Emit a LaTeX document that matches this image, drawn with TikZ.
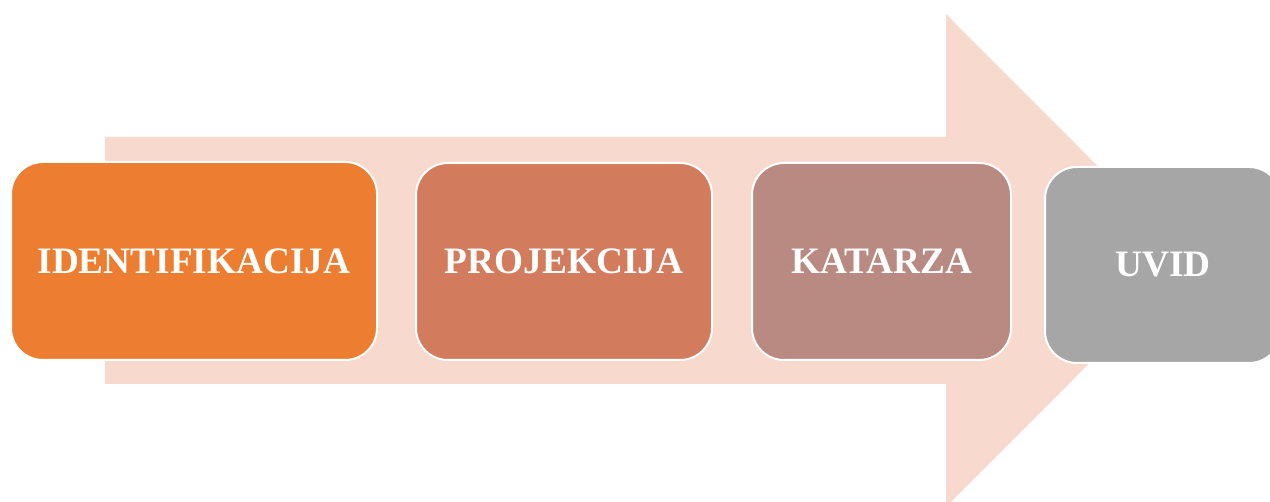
\documentclass[tikz,border=0pt]{standalone}
\usepackage{fontspec}
\setmainfont{Liberation Serif}
\definecolor{arrowfill}{HTML}{F8D9CE}
\definecolor{cA}{HTML}{ED7D31}
\definecolor{cB}{HTML}{D27B5D}
\definecolor{cC}{HTML}{B98A82}
\definecolor{cD}{HTML}{A6A6A6}
\tikzset{
  stagebox/.style={draw=white, line width=2pt, rounded corners=32pt, inner sep=0pt,
    text=white, font=\bfseries\fontsize{37.3}{40}\selectfont, anchor=north west},
}
\begin{document}
\begin{tikzpicture}[x=1pt,y=-1pt]
\useasboundingbox (0,0) rectangle (1270,502);
\clip (0,0) rectangle (1270,502);
\fill[white] (0,0) rectangle (1270,502);
% big arrow
\fill[arrowfill] (105,137) -- (946,137) -- (946,14) -- (1192,260.5) -- (946,507) -- (946,384) -- (105,384) -- cycle;
% boxes
\node[stagebox, fill=cA, minimum width=366pt, minimum height=198pt] (b1) at (10,161) {IDENTIFIKACIJA};
\node[stagebox, fill=cB, minimum width=296pt, minimum height=197pt] (b2) at (415,162) {PROJEKCIJA};
\node[stagebox, fill=cC, minimum width=259pt, minimum height=197pt] (b3) at (751,162) {KATARZA};
\node[stagebox, fill=cD, minimum width=236pt, minimum height=196pt] (b4) at (1044,166) {UVID};
\end{tikzpicture}
\end{document}
